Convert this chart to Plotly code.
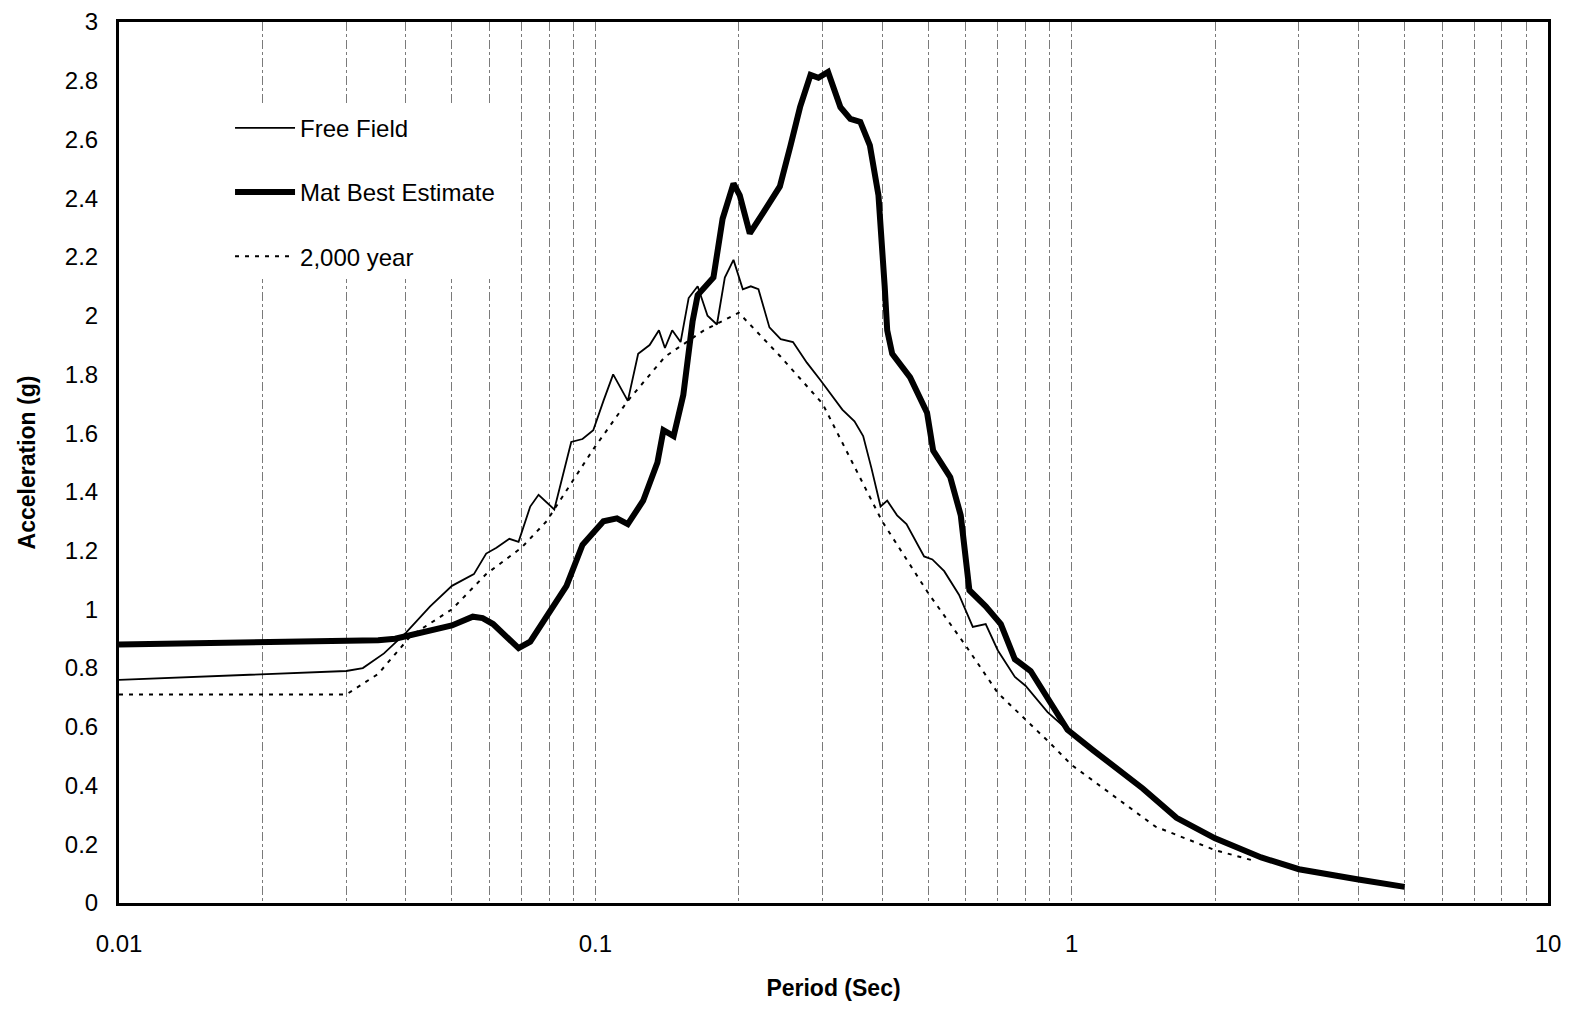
import plotly.graph_objects as go

# Free Field (thin solid)
ff_period = [0.01, 0.03, 0.0325, 0.036, 0.04, 0.045, 0.05, 0.0556, 0.059, 0.062, 0.066, 0.069,
             0.073, 0.076, 0.082, 0.086, 0.089, 0.094, 0.099, 0.104, 0.109, 0.117, 0.123, 0.13,
             0.136, 0.14, 0.145, 0.151, 0.157, 0.164, 0.172, 0.18, 0.187, 0.195, 0.204, 0.212,
             0.22, 0.232, 0.245, 0.26, 0.278, 0.297, 0.31, 0.33, 0.35, 0.365, 0.38, 0.397, 0.41,
             0.43, 0.45, 0.475, 0.49, 0.51, 0.54, 0.58, 0.62, 0.66, 0.70, 0.76, 0.80, 0.89, 0.98]
ff_acc = [0.76, 0.79, 0.80, 0.85, 0.92, 1.01, 1.08, 1.12, 1.19, 1.21, 1.24, 1.23,
          1.35, 1.39, 1.34, 1.48, 1.57, 1.58, 1.61, 1.71, 1.80, 1.71, 1.87, 1.90,
          1.95, 1.89, 1.95, 1.91, 2.06, 2.10, 2.00, 1.97, 2.13, 2.19, 2.09, 2.10,
          2.09, 1.96, 1.92, 1.91, 1.84, 1.78, 1.74, 1.68, 1.64, 1.59, 1.48, 1.35, 1.37,
          1.32, 1.29, 1.22, 1.18, 1.17, 1.13, 1.05, 0.94, 0.95, 0.86, 0.77, 0.74, 0.65, 0.59]

# Mat Best Estimate (thick solid)
mat_period = [0.01, 0.03, 0.035, 0.038, 0.045, 0.05, 0.0553, 0.058, 0.061, 0.065, 0.069, 0.073,
              0.079, 0.087, 0.094, 0.104, 0.111, 0.117, 0.126, 0.135, 0.139, 0.146, 0.153, 0.160,
              0.164, 0.177, 0.185, 0.195, 0.201, 0.211, 0.225, 0.244, 0.257, 0.269, 0.283, 0.294,
              0.308, 0.327, 0.343, 0.36, 0.377, 0.393, 0.405, 0.41, 0.42, 0.458, 0.497, 0.512,
              0.556, 0.585, 0.61, 0.66, 0.71, 0.76, 0.82, 0.89, 0.98, 1.11, 1.25, 1.41, 1.66,
              2.0, 2.5, 3.0, 4.0, 5.0]
mat_acc = [0.88, 0.89, 0.895, 0.90, 0.93, 0.945, 0.975, 0.97, 0.95, 0.91, 0.868, 0.89,
           0.975, 1.08, 1.22, 1.30, 1.31, 1.29, 1.37, 1.50, 1.61, 1.59, 1.73, 1.98,
           2.07, 2.13, 2.33, 2.45, 2.41, 2.28, 2.35, 2.44, 2.58, 2.71, 2.82, 2.81,
           2.83, 2.71, 2.67, 2.66, 2.58, 2.41, 2.10, 1.95, 1.87, 1.79, 1.67, 1.54,
           1.45, 1.32, 1.065, 1.01, 0.95, 0.83, 0.79, 0.70, 0.59, 0.52, 0.455, 0.39, 0.29,
           0.22, 0.155, 0.115, 0.08, 0.055]

# 2,000 year (dotted)
yr_period = [0.01, 0.03, 0.035, 0.041, 0.05, 0.059, 0.07, 0.079, 0.099, 0.117, 0.14, 0.169,
             0.2, 0.245, 0.3, 0.4, 0.5, 0.6, 0.7, 0.8, 0.9, 1.0, 1.2, 1.5, 2.0, 2.4]
yr_acc = [0.71, 0.71, 0.78, 0.91, 1.0, 1.12, 1.21, 1.30, 1.545, 1.71, 1.86, 1.95,
          2.01, 1.86, 1.70, 1.30, 1.055, 0.875, 0.715, 0.625, 0.545, 0.47, 0.375, 0.26, 0.18, 0.145]

x_tickvals = [0.01, 0.1, 1, 10]
x_ticktext = ["0.01", "0.1", "1", "10"]
y_tickvals = [0, 0.2, 0.4, 0.6, 0.8, 1, 1.2, 1.4, 1.6, 1.8, 2, 2.2, 2.4, 2.6, 2.8, 3]
y_ticktext = ["0", "0.2", "0.4", "0.6", "0.8", "1", "1.2", "1.4", "1.6", "1.8", "2",
              "2.2", "2.4", "2.6", "2.8", "3"]
minor_grid = [m * 10.0 ** e for e in (-2, -1, 0) for m in range(2, 10)]

FONT = "Liberation Sans, Arial, sans-serif"
GRID = "#7a7a7a"

fig = go.Figure()
fig.add_trace(go.Scatter(x=ff_period, y=ff_acc, mode="lines", name="Free Field",
                         legendgroup="a", line=dict(color="black", width=1.8)))
fig.add_trace(go.Scatter(x=mat_period, y=mat_acc, mode="lines", name="Mat Best Estimate",
                         legendgroup="b", line=dict(color="black", width=6)))
fig.add_trace(go.Scatter(x=yr_period, y=yr_acc, mode="lines", name="2,000 year",
                         legendgroup="c", line=dict(color="black", width=2, dash="4px,6px")))

# page body has an 8px margin, so the figure is sized/offset to fit the window
fig.update_layout(
    width=1555, height=993,
    margin=dict(l=111, r=15, t=14, b=98, autoexpand=False),
    paper_bgcolor="white", plot_bgcolor="white",
    font=dict(family=FONT, size=24, color="black"),
    showlegend=True,
    legend=dict(x=0.0777, y=0.905, xanchor="left", yanchor="top",
                bgcolor="white", borderwidth=0, font=dict(size=24, family=FONT),
                tracegroupgap=30, itemwidth=60),
)
fig.update_xaxes(
    type="log", range=[-2, 1], automargin=False,
    tickvals=x_tickvals, ticktext=x_ticktext, ticklabeloverflow="allow",
    showline=True, linecolor="black", linewidth=3, mirror=True,
    ticks="", ticklabelstandoff=17,
    showgrid=True, gridcolor=GRID, gridwidth=1, griddash="dashdot",
    minor=dict(tickvals=minor_grid, showgrid=True, gridcolor=GRID, gridwidth=1,
               griddash="dashdot", ticks=""),
    tickfont=dict(size=24, family=FONT),
    title=dict(text="<b>Period (Sec)</b>", font=dict(size=23, family=FONT), standoff=38),
    zeroline=False,
)
fig.update_yaxes(
    range=[0, 3], tickvals=y_tickvals, ticktext=y_ticktext, automargin=False,
    ticklabeloverflow="allow",
    showline=True, linecolor="black", linewidth=3, mirror=True,
    ticks="", ticklabelstandoff=13,
    showgrid=False, zeroline=False,
    tickfont=dict(size=24, family=FONT),
    title=dict(text="<b>Acceleration (g)</b>", font=dict(size=23, family=FONT), standoff=23),
)

fig.write_html("out.html")
